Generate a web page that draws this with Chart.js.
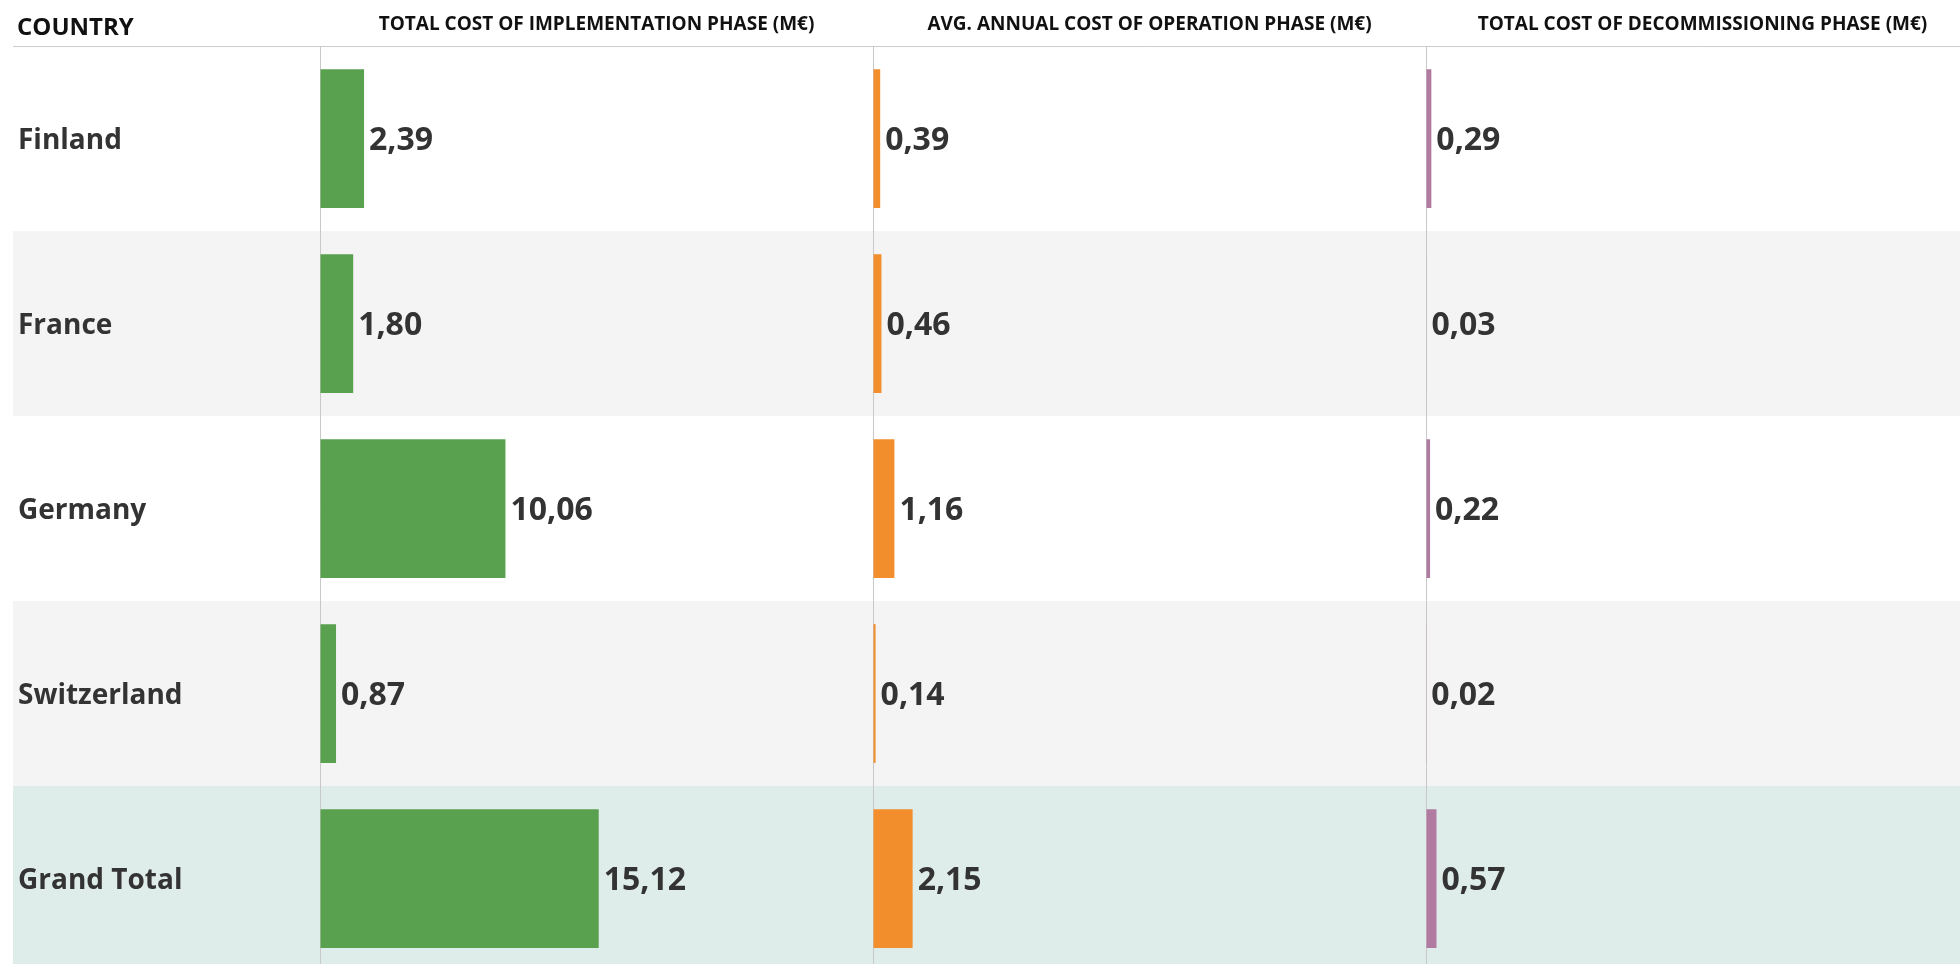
<!DOCTYPE html>
<html>
<head>
<meta charset="utf-8">
<script src="https://cdn.jsdelivr.net/npm/chart.js@4.4.1/dist/chart.umd.min.js"></script>
<style>
  html, body { margin: 0; padding: 0; background: #ffffff; }
  #wrap { position: relative; width: 1960px; height: 964px; overflow: hidden; }
  #wrap canvas { position: absolute; top: 0; }
  #country-head { position: absolute; left: 17px; top: 9px; font: bold 24px "Open Sans", sans-serif; color: #111; }
</style>
</head>
<body>
<div id="wrap">
  <canvas id="col-impl" width="873" height="971" style="left:0px"></canvas>
  <canvas id="col-oper" width="553" height="971" style="left:873px"></canvas>
  <canvas id="col-decom" width="553" height="971" style="left:1426px"></canvas>
  <div id="country-head">COUNTRY</div>
</div>
<script>
var countries = ["Finland", "France", "Germany", "Switzerland", "Grand Total"];
var implementationCost = [2.39, 1.80, 10.06, 0.87, 15.12];
var operationCost = [0.39, 0.46, 1.16, 0.14, 2.15];
var decommissioningCost = [0.29, 0.03, 0.22, 0.02, 0.57];
var columnHeaders = [
  "TOTAL COST OF IMPLEMENTATION PHASE (M\u20ac)",
  "AVG. ANNUAL COST OF OPERATION PHASE (M\u20ac)",
  "TOTAL COST OF DECOMMISSIONING PHASE (M\u20ac)"
];
var axisMax = 30;

function fmt(v) { return v.toFixed(2).replace(".", ","); }

// row shading + header rule, drawn under everything
var tableBg = {
  id: "tableBg",
  beforeDraw: function (chart) {
    var ctx = chart.ctx, area = chart.chartArea, y = chart.scales.y;
    var rowBg = ["#ffffff", "#f4f4f4", "#ffffff", "#f4f4f4", "#dfedea"];
    var h = (area.bottom - area.top) / countries.length;
    var x0 = chart.options.scales.y.display ? 13 : 0;
    ctx.save();
    for (var i = 0; i < countries.length; i++) {
      var c = y.getPixelForValue(i);
      ctx.fillStyle = rowBg[i];
      ctx.fillRect(x0, c - h / 2, chart.width - x0, h);
    }
    ctx.strokeStyle = "#cccccc";
    ctx.lineWidth = 1;
    ctx.beginPath();
    ctx.moveTo(x0, Math.round(area.top) + 0.5);
    ctx.lineTo(chart.width, Math.round(area.top) + 0.5);
    ctx.stroke();
    ctx.restore();
  }
};

// value labels right of each bar
var barValues = {
  id: "barValues",
  afterDatasetsDraw: function (chart) {
    var ctx = chart.ctx;
    ctx.save();
    ctx.font = "bold 32px 'Open Sans', sans-serif";
    ctx.fillStyle = "#333333";
    ctx.textAlign = "left";
    ctx.textBaseline = "alphabetic";
    chart.data.datasets.forEach(function (ds, i) {
      chart.getDatasetMeta(i).data.forEach(function (bar, j) {
        ctx.fillText(fmt(ds.data[j]), bar.x + 5, bar.y + 11);
      });
    });
    ctx.restore();
  }
};

function makeColumn(canvasId, title, values, color, showCountries) {
  return new Chart(document.getElementById(canvasId).getContext("2d"), {
    type: "bar",
    data: {
      labels: countries,
      datasets: [{ label: title, data: values, backgroundColor: color, barPercentage: 0.75, categoryPercentage: 1 }]
    },
    options: {
      indexAxis: "y",
      responsive: false,
      animation: false,
      devicePixelRatio: 1,
      layout: { padding: { left: showCountries ? 18 : 0 } },
      plugins: { legend: { display: false }, tooltip: { enabled: false } },
      scales: {
        x: {
          type: "linear",
          position: "top",
          min: 0,
          max: axisMax,
          afterBuildTicks: function (axis) { axis.ticks = [{ value: 0 }]; },
          ticks: { display: false },
          grid: { display: true, drawTicks: false, color: "#c8c8c8", lineWidth: 1 },
          border: { display: false },
          title: {
            display: true,
            text: title,
            color: "#111111",
            font: { family: "'Open Sans', sans-serif", size: 19, weight: "bold", lineHeight: "23px" },
            padding: { top: 13, bottom: 10 }
          }
        },
        y: {
          type: "category",
          position: "left",
          display: showCountries,
          afterFit: function (s) {
            if (showCountries) s.width = 302;
            s.paddingTop = 0;
            s.paddingBottom = 0;
          },
          grid: { display: false, drawTicks: false },
          border: { display: false },
          ticks: {
            crossAlign: "far",
            padding: 0,
            labelOffset: 3,
            color: "#333333",
            font: { family: "'Open Sans', sans-serif", size: 28, weight: "bold" }
          }
        }
      }
    },
    plugins: [tableBg, barValues]
  });
}

makeColumn("col-impl", columnHeaders[0], implementationCost, "#59a14f", true);
makeColumn("col-oper", columnHeaders[1], operationCost, "#f28e2b", false);
makeColumn("col-decom", columnHeaders[2], decommissioningCost, "#b07aa1", false);
</script>
</body>
</html>
